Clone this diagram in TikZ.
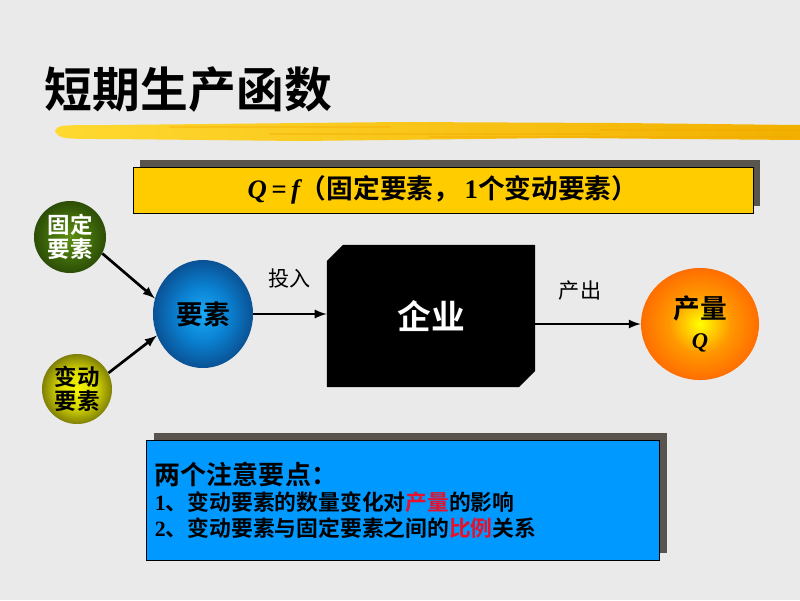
\documentclass[tikz,border=0pt]{standalone}
\usepackage{fontspec}
\setmainfont{Liberation Serif}
\newfontfamily\cjk{Noto Sans CJK SC}[BoldFont={Noto Sans CJK SC Bold}]
\usepackage{tikz}
\usetikzlibrary{shapes, arrows, shadows}
\definecolor{paper}{HTML}{EAEAEA}
\definecolor{shadowgray}{HTML}{5A544E}
\definecolor{formulafill}{HTML}{FFCC00}
\definecolor{notefill}{HTML}{0099FF}
\definecolor{hotred}{HTML}{E8102A}
\definecolor{brushlight}{HTML}{FFD930}
\definecolor{brushdark}{HTML}{F2B000}
\pgfdeclareradialshading[ballin,ballmid,ballout]{ballgrad}{\pgfpointorigin}{color(0bp)=(ballin); color(13bp)=(ballmid); color(26bp)=(ballout); color(50bp)=(ballout)}
\newcommand{\FactorBall}[8]{\definecolor{ballin}{HTML}{#5}\definecolor{ballmid}{HTML}{#6}\definecolor{ballout}{HTML}{#7}
\node[ball,#4] (#1) at (#2,#3) {#8};}

\begin{document}
\begin{tikzpicture}[x=0.025cm,y=-0.025cm,
		ball/.style={ellipse,shading=ballgrad,inner sep=0pt,align=center,font=\cjk\bfseries\fontsize{16}{19}\selectfont},
		feed/.style={-latex,line width=1.9pt},
		panel/.style={rectangle,draw=black,line width=0.6pt,drop shadow={shadow xshift=0.18cm,shadow yshift=0.18cm,fill=shadowgray,opacity=1}},
		tag/.style={font=\cjk\fontsize{15}{18}\selectfont},
		brushline/.style={line width=#1,brushdark!80!orange,line cap=round}]
		\useasboundingbox (0,0) rectangle (800,600);
		\fill[paper] (0,0) rectangle (800,600);
		% title and brush
		\node[anchor=west,font=\cjk\bfseries\fontsize{34}{40}\selectfont] (title) at (40,90) {短期生产函数};
		\shade[left color=brushlight,right color=brushdark] (55,131) .. controls (58,125) .. (110,125) -- (400,122) -- (620,123) -- (800,125) -- (800,140) -- (560,138) -- (300,141) -- (110,139) .. controls (60,139) .. (55,131);
		\foreach \y/\a/\b in {127/170/390, 134/270/600, 137/430/790, 130/600/800}{
			\draw[brushline=1.5pt,opacity=0.35] (\a,\y) -- (\b,\y);
		}
		
		\node[panel,fill=formulafill,minimum width=15.5cm,minimum height=1.15cm,font=\fontsize{19}{23}\selectfont] (formula) at (443,190)
{\bfseries\itshape Q\,=\,f\upshape\cjk（固定要素，\,{\rmfamily 1}个变动要素）};
		\FactorBall{fixed}{70}{237}{minimum size=1.8cm}{5E8E12}{44700A}{2A4A06}{\color{white}固定\\[-2pt]\color{white}要素}
		\FactorBall{variable}{77}{389}{minimum size=1.75cm}{F6F600}{DADA00}{787808}{变动\\[-2pt]要素}
		\FactorBall{factor}{203}{314}{minimum width=2.5cm,minimum height=2.7cm}{1AAAF8}{0A80D0}{0A4E90}{\fontsize{19}{22}\selectfont 要素}
		\FactorBall{output}{700}{324}{minimum width=2.95cm,minimum height=2.8cm}{FFFF00}{FF9800}{FF6A00}{\fontsize{19}{22}\selectfont 产量\\[2pt]\rmfamily\itshape Q}
		
		\node[chamfered rectangle,chamfered rectangle corners={north west,south east},
chamfered rectangle xsep=0.2cm,chamfered rectangle ysep=0.2cm,fill=black,
minimum width=5.2cm,minimum height=3.55cm,inner sep=0pt,text=white,
font=\cjk\bfseries\fontsize{24}{28}\selectfont] (firm) at (431,316) {企业};
		
		\draw[feed] (fixed.-27) -- (factor.162);
		\draw[feed] (variable.27) -- (factor.-155);
		\draw[feed] (factor.east) -- (firm.west |- factor.east) node[tag,midway,above=0.5cm] (input) {投入};
		\draw[feed] (firm.east |- output.west) -- (output.west) node[tag,midway,above=0.45cm,xshift=-0.2cm] (yield) {产出};
		
		\node[panel,fill=notefill,minimum width=12.83cm,minimum height=3cm,text width=12.4cm,align=left,
font=\cjk\bfseries\fontsize{15.5}{18}\selectfont] (note) at (403,500)
{{\fontsize{18.5}{21}\selectfont 两个注意要点：}\\[1pt]
{\rmfamily 1}、变动要素的数量变化对\textcolor{hotred}{产量}的影响\\
{\rmfamily 2}、变动要素与固定要素之间的\textcolor{hotred}{比例}关系};
		
\end{tikzpicture}
\end{document}
